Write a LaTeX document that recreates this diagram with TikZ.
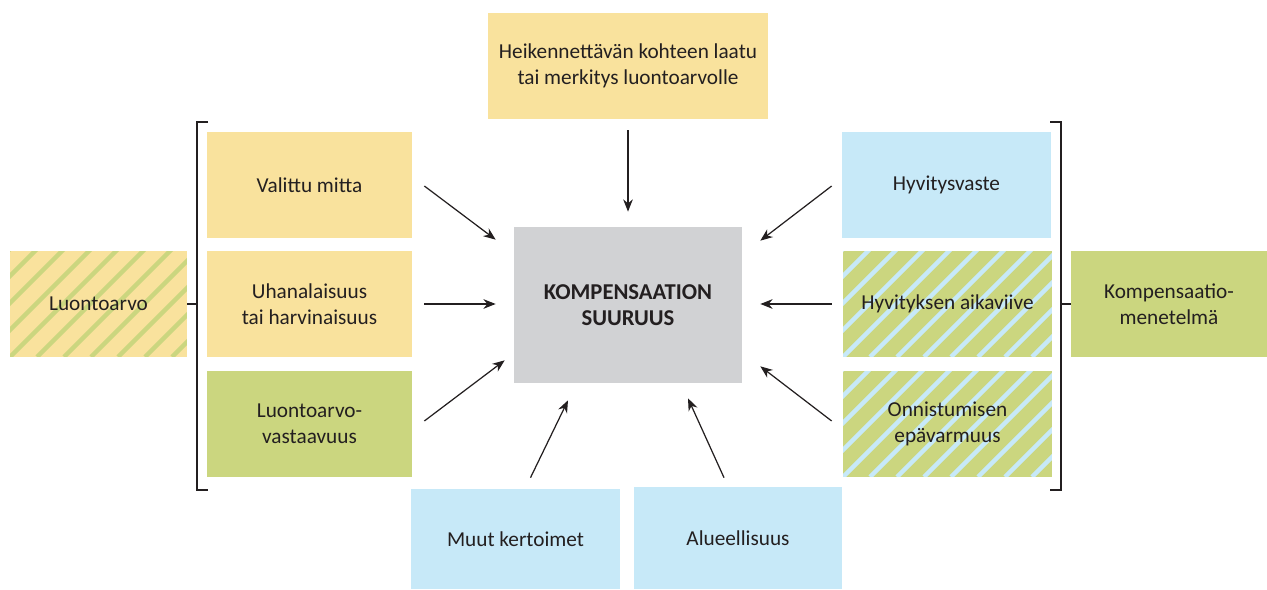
\documentclass[tikz,border=0pt]{standalone}
\usepackage{fontspec}
\setmainfont{Carlito}
\usetikzlibrary{arrows.meta,calc}
\definecolor{sand}{RGB}{249,226,157}
\definecolor{leaf}{RGB}{203,214,127}
\definecolor{sky}{RGB}{199,233,248}
\definecolor{stone}{RGB}{209,210,212}
\definecolor{ink}{RGB}{35,31,32}

\begin{document}
\begin{tikzpicture}[x=0.02cm,y=-0.02cm,
    font=\fontsize{12.1}{14.8}\selectfont, text=ink,
    box/.style={inner sep=2pt, align=center, minimum height=2.12cm},
    stripes/.style={path picture={\foreach \k in {-5,...,9}
        \draw[#1, line width=0.09cm] ([xshift=\k*0.54cm]path picture bounding box.south west) -- ++(3cm,3cm);}},
    arr/.style={-{Stealth[length=7pt,width=5.5pt]}, line width=0.7pt, draw=ink},
    brk/.style={line width=0.9pt, draw=ink}]
  \useasboundingbox (0,0) rectangle (1267,590);
  % centre and top
  \node[box, fill=stone, minimum width=4.56cm, minimum height=3.12cm,
        font=\fontsize{12.9}{15}\selectfont\bfseries] (koko) at (628,305) {KOMPENSAATION\\SUURUUS};
  \node[box, fill=sand, minimum width=5.6cm] (laatu) at (628,66) {Heikennettävän kohteen laatu\\tai merkitys luontoarvolle};
  % left side
  \node[box, fill=sand, minimum width=4.1cm] (mitta) at (309.5,185) {Valittu mitta};
  \node[box, fill=sand, minimum width=4.1cm] (uhan) at (309.5,304) {Uhanalaisuus\\tai harvinaisuus};
  \node[box, fill=leaf, minimum width=4.1cm] (vast) at (309.5,424) {Luontoarvo-\\vastaavuus};
  \node[box, fill=sand, stripes=leaf, minimum width=3.54cm] (arvo) at (98.5,304) {Luontoarvo};
  % right side
  \node[box, fill=sky, minimum width=4.18cm] (vaste) at (946.5,185) {Hyvitysvaste};
  \node[box, fill=leaf, stripes=sky, minimum width=4.18cm] (viive) at (947.5,304) {Hyvityksen aikaviive};
  \node[box, fill=leaf, stripes=sky, minimum width=4.18cm] (epav) at (947.5,424) {Onnistumisen\\epävarmuus};
  \node[box, fill=leaf, minimum width=3.92cm] (menet) at (1169,304) {Kompensaatio-\\menetelmä};
  % bottom
  \node[box, fill=sky, minimum width=4.18cm, minimum height=2cm] (muut) at (515.5,539) {Muut kertoimet};
  \node[box, fill=sky, minimum width=4.16cm, minimum height=2.04cm] (alue) at (738,538) {Alueellisuus};
  % brackets
  \draw[brk] (208,122) -- (197,122) -- (197,490) -- (208,490);
  \draw[brk] (1050,122) -- (1061,122) -- (1061,490) -- (1050,490);
  \coordinate (lsulku) at (197,304);
  \coordinate (rsulku) at (1061,304);
  \draw[brk] (arvo.east) -- (lsulku);
  \draw[brk] (menet.west) -- (rsulku);
  % arrows
  \draw[arr] ($(laatu.south)+(0,11)$) -- ($(koko.north)+(0,-15)$);
  \draw[arr] ($(mitta.east)+(12,1)$) -- ($(koko.north west)+(-18,13)$);
  \draw[arr] ($(uhan.east)+(12,0)$) -- ($(koko.west)+(-18,-1)$);
  \draw[arr] ($(vast.east)+(12,-3)$) -- ($(koko.south west)+(-9,-23)$);
  \draw[arr] ($(vaste.west)+(-10,1)$) -- ($(koko.north east)+(18,14)$);
  \draw[arr] ($(viive.west)+(-11,0)$) -- ($(koko.east)+(18,-1)$);
  \draw[arr] ($(epav.west)+(-11,-3)$) -- ($(koko.south east)+(18,-17)$);
  \draw[arr] ($(muut.north)+(15,-11)$) -- ($(koko.south)+(-60,17)$);
  \draw[arr] ($(alue.north)+(-14,-9)$) -- ($(koko.south)+(60,15)$);
\end{tikzpicture}
\end{document}
